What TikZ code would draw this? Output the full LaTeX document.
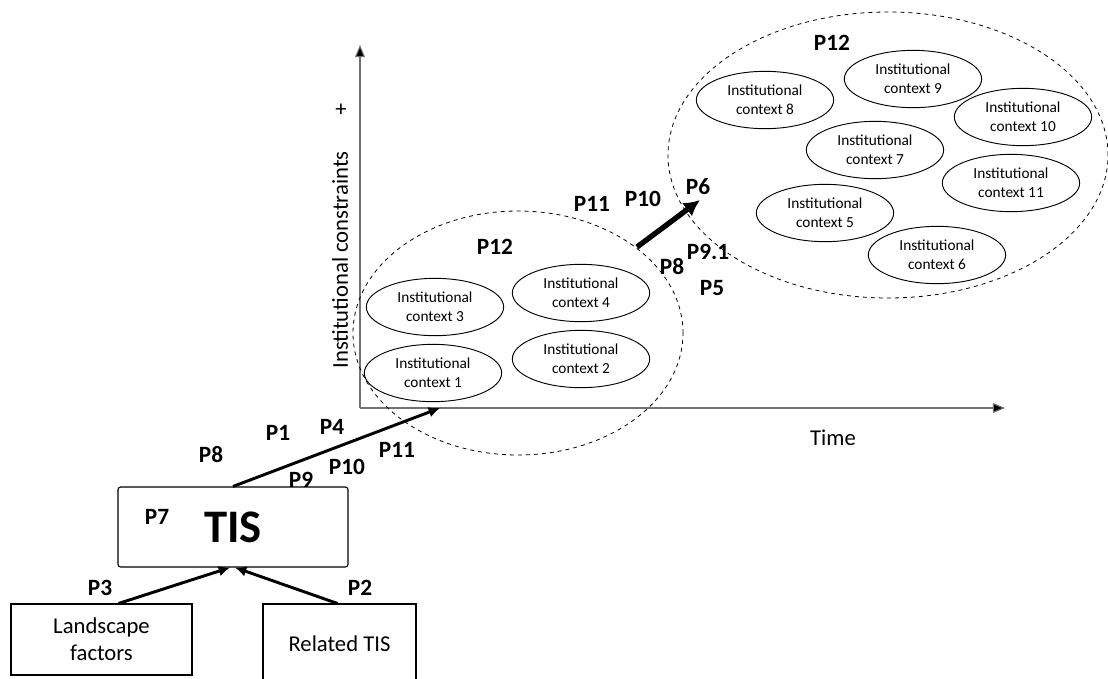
\documentclass[tikz,border=0pt]{standalone}
\usepackage{fontspec}
\setmainfont{Carlito}
\usepackage{tikz}
\usetikzlibrary{positioning,calc,arrows.meta,shapes.geometric}

\begin{document}
\begin{tikzpicture}[
    x=0.75pt,
    y=-0.75pt,
    >=Latex,
    axis/.style={line width=0.8pt, draw=black!55, -{Triangle[length=3.2mm, width=2.6mm, fill=black]}},
    link/.style={line width=2.2pt, -{Latex[length=3mm, width=2.8mm]}},
    jump/.style={line width=4pt, -{Latex[length=4.2mm, width=4.4mm]}},
    region/.style={draw, dashed, ellipse, line width=0.6pt, inner sep=0pt},
    context/.style={draw, ellipse, line width=0.7pt, inner sep=0pt, minimum width=103pt, minimum height=43pt,
        align=center, font=\fontsize{11.5}{14}\selectfont},
    plabel/.style={font=\fontsize{17.5}{20}\selectfont\bfseries},
    axislabel/.style={font=\fontsize{17}{20}\selectfont},
    box/.style={draw, line width=0.8pt, align=center, font=\fontsize{17}{20}\selectfont}
]

\useasboundingbox (0,0) rectangle (1108,679);

% Axes: origin at (360,408)
\coordinate (origin) at (360,408);
\coordinate (ytop) at (360,45);
\coordinate (xend) at (1005,408);
\draw[axis] (origin) -- (ytop);
\draw[axis] (origin) -- (xend);
\node[axislabel, rotate=90] (ylab) at (340,260) {Institutional constraints};
\node[axislabel] (plus) at (341,110) {+};
\node[axislabel] (time) at (833,438) {Time};

% Clusters of institutional contexts
\node[region, minimum width=247.5pt, minimum height=183pt] (early) at (518,333) {};
\node[region, minimum width=330pt, minimum height=214.5pt] (late) at (888,155) {};

\foreach \n/\px/\py in {1/433/373, 3/435/307, 2/581/359, 4/581/293,
    5/825/213, 6/937/255, 7/875/150, 8/765/100, 9/913/79, 10/1023/117, 11/1011/183}{
    \node[context] (ctx\n) at (\px,\py) {Institutional\\context \n};
}

\node[plabel] (p12a) at (495,247) {P12};
\node[plabel] (p12b) at (832,43) {P12};

% Step from first to second cluster
\coordinate (jumpstart) at (637,247);
\coordinate (jumpend) at (700,200);
\draw[jump] (jumpstart) -- (jumpend);
\node[plabel] (p11b) at (592,204) {P11};
\node[plabel] (p10b) at (643,199) {P10};
\node[plabel] (p6) at (698,187) {P6};
\node[plabel] (p91) at (708,252) {P9.1};
\node[plabel] (p8b) at (672,267) {P8};
\node[plabel] (p5) at (712,288) {P5};

% TIS and its inputs
\node[box, rounded corners=2pt, minimum width=172.5pt, minimum height=60pt] (tis) at (233,527) {};
\node[font=\fontsize{35}{40}\selectfont\bfseries] (tistext) at (233,527) {TIS};
\node[plabel] (p7) at (157,517) {P7};

\node[box, minimum width=135.75pt, minimum height=53.25pt] (land) at (101.5,639.5) {Landscape\\factors};
\node[box, minimum width=114.75pt, minimum height=60pt] (rel) at (339.5,644) {Related TIS};

\draw[link] ([xshift=12.75pt]land.north) -- ([xshift=-2.25pt]tis.south);
\draw[link] ([xshift=-1.5pt]rel.north) -- ([xshift=1.5pt]tis.south);
\node[plabel] (p3) at (100,588) {P3};
\node[plabel] (p2) at (360,588) {P2};

% TIS entering the first cluster
\coordinate (enter) at (440,408);
\draw[link] (tis.north) -- (enter);
\node[plabel] (p8a) at (211,455) {P8};
\node[plabel] (p1) at (278,433) {P1};
\node[plabel] (p4) at (332,427) {P4};
\node[plabel] (p11a) at (397,450) {P11};
\node[plabel] (p10a) at (347,467) {P10};
\node[plabel] (p9) at (301,480) {P9};

\end{tikzpicture}
\end{document}
